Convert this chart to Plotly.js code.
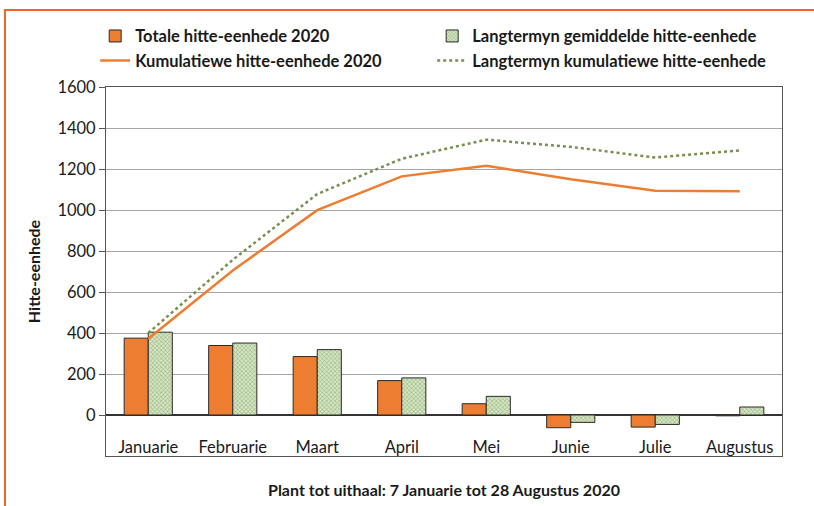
<!DOCTYPE html>
<html>
<head>
<meta charset="utf-8">
<script src="https://cdn.plot.ly/plotly-3.0.1.min.js"></script>
<style>
  html, body { margin: 0; padding: 0; background: #ffffff; }
  #wrap { position: relative; width: 814px; height: 506px; overflow: hidden; }
  #chart { position: absolute; left: 0; top: 0; width: 814px; height: 506px; }
  #frame { position: absolute; left: 4px; top: 9px; width: 830px; height: 520px;
           border-left: 2px solid #f26522; border-top: 2px solid #f26522; pointer-events: none; }
</style>
</head>
<body>
<div id="wrap">
  <div id="chart"></div>
  <div id="frame"></div>
</div>
<script>
const months = ["Januarie", "Februarie", "Maart", "April", "Mei", "Junie", "Julie", "Augustus"];
const totale2020 = [375, 339, 285, 168, 55, -62, -59, -4];
const langtermynGemiddeld = [404, 351, 319, 181, 91, -36, -46, 39];
const kumulatief2020 = [372, 705, 999, 1164, 1216, 1150, 1094, 1091];
const langtermynKumulatief = [400, 757, 1078, 1250, 1343, 1308, 1256, 1290];

const fontFam = "Lato, 'Open Sans', sans-serif";

const traces = [
  {
    type: "bar", name: "Totale hitte-eenhede 2020", x: months, y: totale2020,
    marker: { color: "#ed7d31", line: { color: "#2b2b2b", width: 1 } }
  },
  {
    type: "bar", name: "Langtermyn gemiddelde hitte-eenhede", x: months, y: langtermynGemiddeld,
    marker: { color: "#cfe0bd", line: { color: "#2b2b2b", width: 1 },
              pattern: { shape: "x", fgcolor: "#8aa86c", bgcolor: "#d3e4c2", size: 3, solidity: 0.3 } }
  },
  {
    type: "scatter", mode: "lines", name: "Kumulatiewe hitte-eenhede 2020", x: months, y: kumulatief2020,
    line: { color: "#ed7d31", width: 2.5 }
  },
  {
    type: "scatter", mode: "lines", name: "Langtermyn kumulatiewe hitte-eenhede", x: months, y: langtermynKumulatief,
    line: { color: "#76904f", width: 2.5, dash: "dot" }
  }
];

const layout = {
  width: 814, height: 506,
  margin: { l: 106, r: 32, t: 87, b: 50 },
  paper_bgcolor: "#ffffff", plot_bgcolor: "#ffffff",
  font: { family: fontFam, size: 16, color: "#1a1a1a" },
  barmode: "group", bargap: 0.43, bargroupgap: 0,
  showlegend: true,
  legend: {
    orientation: "h", x: -0.016, xanchor: "left", y: 1.185, yanchor: "top",
    entrywidth: 292, entrywidthmode: "pixels", itemwidth: 30,
    font: { family: fontFam, size: 16.5, color: "#1a1a1a", weight: 700 },
    bgcolor: "rgba(0,0,0,0)", traceorder: "normal", tracegroupgap: 0
  },
  xaxis: {
    type: "category", categoryorder: "array", categoryarray: months,
    ticks: "", ticklabelposition: "inside",
    tickfont: { family: fontFam, size: 16.5, color: "#1a1a1a" },
    showline: true, linecolor: "#555555", linewidth: 1, mirror: true,
    showgrid: false, zeroline: false,
    title: { text: "Plant tot uithaal: 7 Januarie tot 28 Augustus 2020",
             font: { family: fontFam, size: 16, color: "#1a1a1a", weight: 700 }, standoff: 28 }
  },
  yaxis: {
    range: [-200, 1600], dtick: 200, tick0: 0,
    ticks: "outside", ticklen: 6, tickcolor: "#555555",
    tickfont: { family: fontFam, size: 16.5, color: "#1a1a1a" },
    showline: true, linecolor: "#555555", linewidth: 1, mirror: true,
    showgrid: true, gridcolor: "#a6a6a6", gridwidth: 1,
    zeroline: true, zerolinecolor: "#333333", zerolinewidth: 1.5,
    title: { text: "Hitte-eenhede", font: { family: fontFam, size: 16, color: "#1a1a1a", weight: 700 }, standoff: 12 }
  }
};

Plotly.newPlot("chart", traces, layout, { displayModeBar: false, staticPlot: true });
</script>
</body>
</html>
